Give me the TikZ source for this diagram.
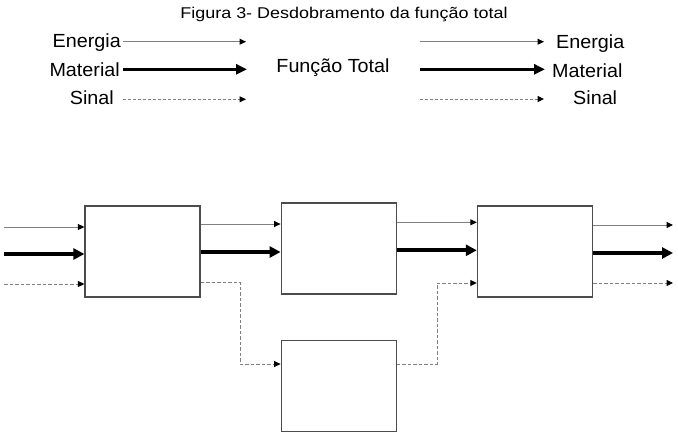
\documentclass[tikz,border=0pt]{standalone}
\usepackage{fontspec}
\setmainfont{Liberation Sans}[FakeStretch=1.04]
\newfontfamily\titlefont{Liberation Sans}[FakeStretch=1.15]
\usetikzlibrary{arrows.meta,positioning}

\begin{document}
\begin{tikzpicture}[x=1pt, y=-1pt, node distance=80pt,
  fbox/.style={draw=black!70, line width=1.2pt, minimum width=115pt, minimum height=91pt, inner sep=0pt},
  lbl/.style={font=\fontsize{19}{22}\selectfont, inner sep=0pt},
  enarrow/.style={draw=black!50, line width=1pt, -{Triangle[black, length=6.5pt, width=6pt]}},
  matarrow/.style={line width=4pt, -{Triangle[length=11pt, width=11pt]}},
  sigarrow/.style={draw=black!50, line width=1pt, dash pattern=on 3.5pt off 2pt, -{Triangle[black, length=6.5pt, width=6pt]}}]
\useasboundingbox (0,0) rectangle (678,440);
% legenda
\node[font=\titlefont\fontsize{15.6}{18}\selectfont, inner sep=0pt, anchor=base] (title) at (344,18.3) {Figura 3- Desdobramento da função total};
\node[lbl, anchor=base east] (enL) at (121,47) {Energia};
\node[lbl, anchor=base east] (maL) at (120,76) {Material};
\node[lbl, anchor=base east] (siL) at (114,104) {Sinal};
\node[lbl, anchor=base] (tot) at (333,72) {Função Total};
\node[lbl, anchor=base west] (enR) at (556,48) {Energia};
\node[lbl, anchor=base west] (maR) at (552,77) {Material};
\node[lbl, anchor=base west] (siR) at (573,104) {Sinal};
\coordinate (enA) at (123,41.7);  \coordinate (enB) at (246,41.7);
\coordinate (maA) at (123,69.3);  \coordinate (maB) at (247,69.3);
\coordinate (siA) at (123,99.3);  \coordinate (siB) at (246,99.3);
\coordinate (enC) at (420,41.7);  \coordinate (enD) at (544,41.7);
\coordinate (maC) at (420,69.3);  \coordinate (maD) at (545,69.3);
\coordinate (siC) at (420,99);    \coordinate (siD) at (544,99);
\draw[enarrow] (enA) -- (enB);
\draw[matarrow, line width=3.3pt, -{Triangle[length=11pt, width=10pt]}] (maA) -- (maB);
\draw[sigarrow, dash pattern=on 3pt off 2pt] (siA) -- (siB);
\draw[enarrow] (enC) -- (enD);
\draw[matarrow, line width=3.3pt, -{Triangle[length=11pt, width=10pt]}] (maC) -- (maD);
\draw[sigarrow, dash pattern=on 3pt off 2pt] (siC) -- (siD);
% desdobramento
\node[fbox] (b1) at (142.5,251.5) {};
\node[fbox, right=of b1, yshift=3pt] (b2) {};
\node[fbox, right=of b2, yshift=-3pt] (b3) {};
\node[fbox, below=45pt of b2] (b4) {};
\coordinate (inE) at (4,227);
\coordinate (inM) at (4,254);
\coordinate (inS) at (4,284);
\draw[enarrow] (inE) -- (b1.west |- inE);
\draw[matarrow] (inM) -- (b1.west |- inM);
\draw[sigarrow] (inS) -- (b1.west |- inS);
\coordinate (e12) at (240,224);
\coordinate (m12) at (240,252);
\draw[enarrow] (b1.east |- e12) -- (b2.west |- e12);
\draw[matarrow] (b1.east |- m12) -- (b2.west |- m12);
\coordinate (e23) at (437,222.3);
\coordinate (m23) at (437,250.3);
\draw[enarrow] (b2.east |- e23) -- (b3.west |- e23);
\draw[matarrow] (b2.east |- m23) -- (b3.west |- m23);
\coordinate (s1) at (240,282.3);
\coordinate (k1) at (240,364);
\draw[sigarrow] (b1.east |- s1) -| (k1) -- (b4.west |- k1);
\coordinate (k2) at (437,283);
\draw[sigarrow] (b4.east |- k1) -| (k2) -- (b3.west |- k2);
\coordinate (outE) at (673,225);
\coordinate (outM) at (673,253);
\coordinate (outS) at (673,283);
\draw[enarrow] (b3.east |- outE) -- (outE);
\draw[matarrow] (b3.east |- outM) -- (outM);
\draw[sigarrow] (b3.east |- outS) -- (outS);
\end{tikzpicture}
\end{document}
